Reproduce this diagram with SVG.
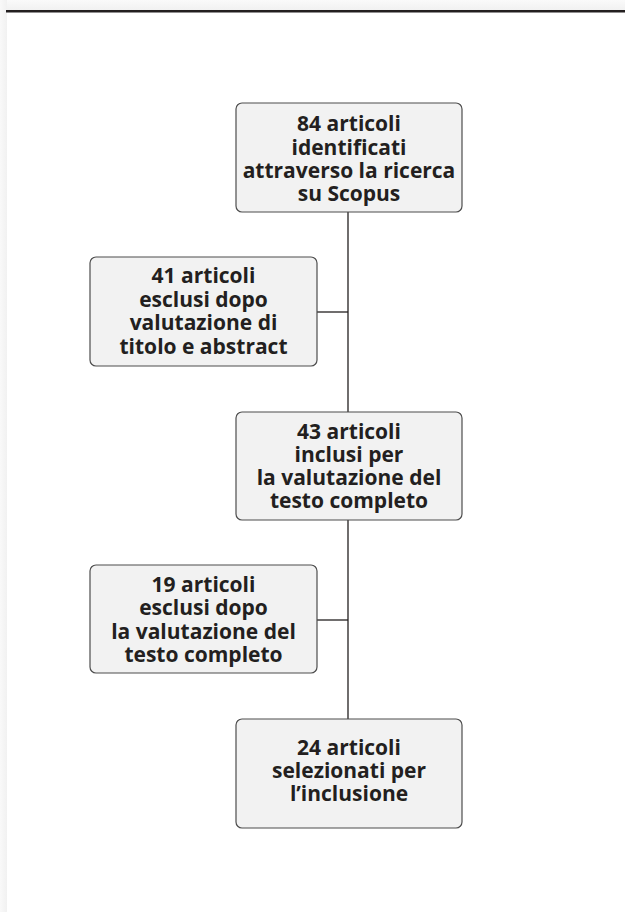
<svg xmlns="http://www.w3.org/2000/svg" width="625" height="912" viewBox="0 0 625 912">
<defs>
<linearGradient id="gl" x1="0" y1="0" x2="1" y2="0"><stop offset="0" stop-color="#f9f9f9"/><stop offset="1" stop-color="#f1f1f1"/></linearGradient>
<linearGradient id="gt" x1="0" y1="0" x2="0" y2="1"><stop offset="0" stop-color="#fafafa"/><stop offset="1" stop-color="#f1f1f1"/></linearGradient>
</defs>
<style>
.box{fill:#f2f2f2;stroke:#4d4d4d;stroke-width:1.2}
.t{font-family:"Open Sans",Lato,sans-serif;font-weight:bold;font-size:21px;fill:#231f20;text-anchor:middle}
.c{stroke:#231f20;stroke-width:1.3;fill:none}
</style>
<rect x="0" y="0" width="625" height="912" fill="#ffffff"/>
<rect x="0" y="0" width="625" height="10" fill="url(#gt)"/>
<rect x="0" y="0" width="7" height="912" fill="url(#gl)"/>
<rect x="6" y="10" width="619" height="2.5" fill="#231f20"/>
<g id="connectors">
<line class="c" x1="348" y1="212" x2="348" y2="719"/>
<line class="c" x1="317" y1="312" x2="348" y2="312"/>
<line class="c" x1="317" y1="620" x2="348" y2="620"/>
</g>
<g id="n1">
<rect class="box" x="236" y="103" width="226" height="109" rx="6"/>
<text class="t" x="349" y="131">84 articoli</text>
<text class="t" x="349" y="154.5">identificati</text>
<text class="t" x="349" y="178">attraverso la ricerca</text>
<text class="t" x="349" y="201">su Scopus</text>
</g>
<g id="n2">
<rect class="box" x="90" y="257" width="227" height="109" rx="6"/>
<text class="t" x="203.5" y="283">41 articoli</text>
<text class="t" x="203.5" y="306.5">esclusi dopo</text>
<text class="t" x="203.5" y="330">valutazione di</text>
<text class="t" x="203.5" y="353.5">titolo e abstract</text>
</g>
<g id="n3">
<rect class="box" x="236" y="412" width="226" height="108" rx="6"/>
<text class="t" x="349" y="439">43 articoli</text>
<text class="t" x="349" y="462">inclusi per</text>
<text class="t" x="349" y="485">la valutazione del</text>
<text class="t" x="349" y="508">testo completo</text>
</g>
<g id="n4">
<rect class="box" x="90" y="565" width="227" height="108" rx="6"/>
<text class="t" x="203.5" y="592">19 articoli</text>
<text class="t" x="203.5" y="615">esclusi dopo</text>
<text class="t" x="203.5" y="638.5">la valutazione del</text>
<text class="t" x="203.5" y="661.5">testo completo</text>
</g>
<g id="n5">
<rect class="box" x="236" y="719" width="226" height="109" rx="6"/>
<text class="t" x="349" y="755">24 articoli</text>
<text class="t" x="349" y="778">selezionati per</text>
<text class="t" x="349" y="801">l’inclusione</text>
</g>
</svg>
